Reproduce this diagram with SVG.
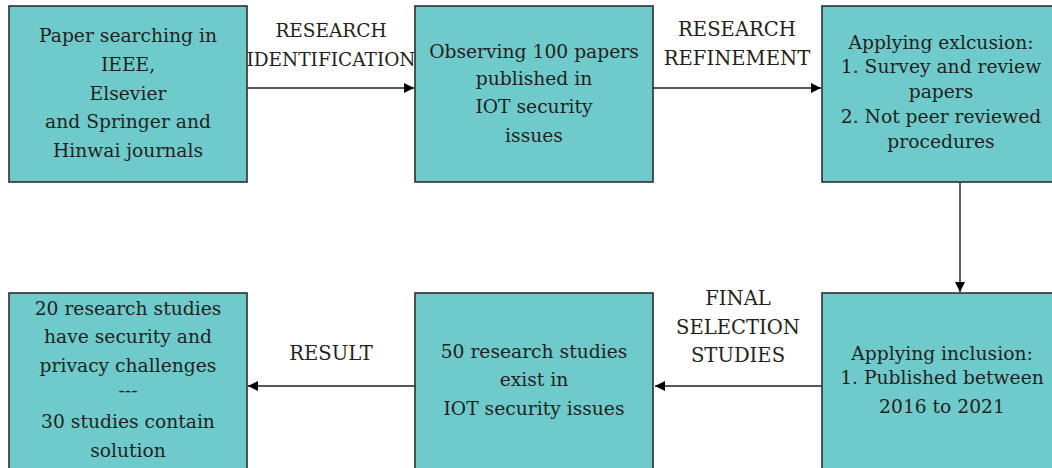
<svg xmlns="http://www.w3.org/2000/svg" width="1052" height="468" viewBox="0 0 1052 468">
<defs>
<style>
.box{fill:#6fcbcb;stroke:#2e2e2e;stroke-width:1.6}
.t{font-size:18.7px;fill:#231f20;text-anchor:middle}
.lbl{font-size:19.6px;fill:#231f20;text-anchor:middle}
.lbs{font-size:18.5px;fill:#231f20;text-anchor:middle}
.ln{stroke:#231f20;stroke-width:1.4;fill:none}
</style>
<marker id="ah" viewBox="0 0 10 10" refX="10" refY="5" markerWidth="10" markerHeight="10" markerUnits="userSpaceOnUse" orient="auto">
<path d="M0,0 L10,5 L0,10 Z" fill="#000"/>
</marker>
</defs>
<rect width="1052" height="468" fill="#fff"/>
<g font-family="'DejaVu Serif', serif">
<g id="connectors">
<line class="ln" x1="247" y1="88" x2="414" y2="88" marker-end="url(#ah)"/>
<line class="ln" x1="653" y1="88" x2="821" y2="88" marker-end="url(#ah)"/>
<line class="ln" x1="960" y1="182" x2="960" y2="292" marker-end="url(#ah)"/>
<line class="ln" x1="822" y1="386" x2="655" y2="386" marker-end="url(#ah)"/>
<line class="ln" x1="415" y1="386" x2="248" y2="386" marker-end="url(#ah)"/>
<text class="lbs" x="331" y="37">RESEARCH</text>
<text class="lbs" x="331" y="66">IDENTIFICATION</text>
<text class="lbl" x="737" y="36">RESEARCH</text>
<text class="lbl" x="737" y="65">REFINEMENT</text>
<text class="lbl" x="331" y="360">RESULT</text>
<text class="lbl" x="738" y="305">FINAL</text>
<text class="lbl" x="738" y="334">SELECTION</text>
<text class="lbl" x="738" y="362">STUDIES</text>
</g>
<g id="n1">
<rect class="box" x="9" y="6" width="238" height="176"/>
<text class="t" x="128" y="42">Paper searching in</text>
<text class="t" x="128" y="71">IEEE,</text>
<text class="t" x="128" y="100">Elsevier</text>
<text class="t" x="128" y="128">and Springer and</text>
<text class="t" x="128" y="157">Hinwai journals</text>
</g>
<g id="n2">
<rect class="box" x="415" y="6" width="238" height="176"/>
<text class="t" x="534" y="58">Observing 100 papers</text>
<text class="t" x="534" y="85">published in</text>
<text class="t" x="534" y="113">IOT security</text>
<text class="t" x="534" y="142">issues</text>
</g>
<g id="n3">
<rect class="box" x="822" y="6" width="240" height="176"/>
<text class="t" x="941" y="49">Applying exlcusion:</text>
<text class="t" x="941" y="73">1. Survey and review</text>
<text class="t" x="941" y="98">papers</text>
<text class="t" x="941" y="123">2. Not peer reviewed</text>
<text class="t" x="941" y="148">procedures</text>
</g>
<g id="n4">
<rect class="box" x="822" y="293" width="240" height="185"/>
<text class="t" x="942" y="360">Applying inclusion:</text>
<text class="t" x="942" y="384">1. Published between</text>
<text class="t" x="942" y="413">2016 to 2021</text>
</g>
<g id="n5">
<rect class="box" x="415" y="293" width="238" height="185"/>
<text class="t" x="534" y="358">50 research studies</text>
<text class="t" x="534" y="386">exist in</text>
<text class="t" x="534" y="415">IOT security issues</text>
</g>
<g id="n6">
<rect class="box" x="9" y="293" width="238" height="185"/>
<text class="t" x="128" y="315">20 research studies</text>
<text class="t" x="128" y="343">have security and</text>
<text class="t" x="128" y="372">privacy challenges</text>
<text class="t" x="128" y="397">---</text>
<text class="t" x="128" y="428">30 studies contain</text>
<text class="t" x="128" y="457">solution</text>
</g>
</g>
</svg>
